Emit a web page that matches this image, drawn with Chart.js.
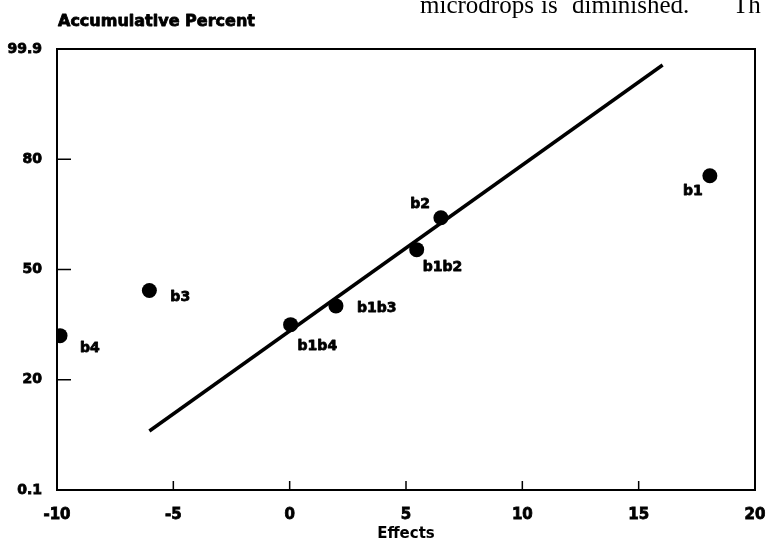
<!DOCTYPE html>
<html>
<head>
<meta charset="utf-8">
<script src="https://cdn.jsdelivr.net/npm/chart.js@4/dist/chart.umd.min.js"></script>
<style>
  html, body { margin: 0; padding: 0; background: #fff; }
  #wrap { width: 766px; height: 551px; }
</style>
</head>
<body>
<div id="wrap"><canvas id="plot"></canvas></div>
<script>
// effects and their position on the (equally spaced) percent axis
let effectNames = ['b4', 'b3', 'b1b4', 'b1b3', 'b1b2', 'b2', 'b1']
let effectValues = [-9.87, -6.03, 0.04, 1.99, 5.46, 6.50, 18.06]
let percentPos = [1.40, 1.81, 1.50, 1.67, 2.18, 2.47, 2.85]

// fitted line, two ends
let lineX = [-6.03, 16.03]
let lineY = [0.535, 3.855]

// percent axis tick labels, one per unit step
let percentLabels = ['0.1', '20', '50', '80', '99.9']
let xTicks = [-10, -5, 0, 5, 10, 15, 20]

// where each label sits relative to its dot (px), and alignment
let labelOffsets = [[20, 13, 'left'], [21, 7, 'left'], [7, 22, 'left'], [21, 2, 'left'],
                    [6, 18, 'left'], [-11, -13, 'right'], [-7, 16, 'right']]

// bit of the page's body text showing above the plot (justified, so words placed one by one)
let pageWords = ['microdrops', 'is', 'diminished.', 'Th']
let pageWordX = [420, 541, 572, 733]

const FONT = 'bold 14px "DejaVu Sans"'

let points = effectValues.map((v, i) => ({ x: v, y: percentPos[i] }))
let fit = lineX.map((v, i) => ({ x: v, y: lineY[i] }))

const frame = {
  id: 'frame',
  afterDraw(chart) {
    const ctx = chart.ctx
    const a = chart.chartArea
    const xs = chart.scales.x
    const ys = chart.scales.y
    ctx.save()
    ctx.strokeStyle = '#000'
    ctx.lineWidth = 2
    ctx.strokeRect(a.left, a.top, a.right - a.left, a.bottom - a.top)

    // inward tick marks
    ctx.lineWidth = 1.5
    ctx.beginPath()
    for (let i = 1; i < percentLabels.length - 1; i++) {
      const py = ys.getPixelForValue(i)
      ctx.moveTo(a.left, py)
      ctx.lineTo(a.left + 14, py)
    }
    for (let i = 1; i < xTicks.length - 1; i++) {
      const px = xs.getPixelForValue(xTicks[i])
      ctx.moveTo(px, a.bottom)
      ctx.lineTo(px, a.bottom - 9)
    }
    ctx.stroke()

    // point labels
    ctx.fillStyle = '#000'
    ctx.lineWidth = 0.8
    ctx.lineJoin = 'round'
    ctx.font = FONT
    ctx.textBaseline = 'middle'
    const meta = chart.getDatasetMeta(1)
    meta.data.forEach((el, i) => {
      const o = labelOffsets[i]
      ctx.textAlign = o[2]
      ctx.fillText(effectNames[i], el.x + o[0], el.y + o[1])
      ctx.strokeText(effectNames[i], el.x + o[0], el.y + o[1])
    })

    // y axis title
    ctx.textAlign = 'left'
    ctx.font = 'bold 16px "DejaVu Sans"'
    ctx.fillText('Accumulative Percent', 58, 22)
    ctx.strokeText('Accumulative Percent', 58, 22)

    // page text cut by the top edge
    ctx.textBaseline = 'alphabetic'
    ctx.font = '25px "Liberation Serif"'
    pageWords.forEach((w, i) => ctx.fillText(w, pageWordX[i], 13))
    ctx.restore()
  }
}

new Chart(document.getElementById('plot'), {
  type: 'scatter',
  data: {
    datasets: [
      {
        label: 'fit',
        data: fit,
        showLine: true,
        borderColor: '#000',
        borderWidth: 3.5,
        pointRadius: 0,
        borderCapStyle: 'butt'
      },
      {
        label: 'effects',
        data: points,
        backgroundColor: '#000',
        borderColor: '#000',
        pointRadius: 7.5,
        borderWidth: 0
      }
    ]
  },
  options: {
    responsive: true,
    maintainAspectRatio: false,
    animation: false,
    layout: { padding: { top: 49, right: 0, left: 0, bottom: 0 } },
    plugins: {
      legend: { display: false },
      tooltip: { enabled: false }
    },
    scales: {
      x: {
        type: 'linear',
        min: -10,
        max: 20,
        afterBuildTicks: (s) => { s.ticks = xTicks.map(v => ({ value: v })) },
        afterFit: (s) => { s.height = 61; s.paddingRight = 11; s.paddingLeft = 0 },
        grid: { display: false },
        border: { display: false },
        ticks: {
          color: '#000',
          font: { family: 'DejaVu Sans', size: 15, weight: 'bold' },
          textStrokeColor: '#000',
          textStrokeWidth: 0.8,
          padding: 8,
          maxRotation: 0
        },
        title: {
          display: true,
          text: 'Effects',
          color: '#000',
          font: { family: 'DejaVu Sans', size: 15, weight: 'bold' },
          padding: { top: 2, bottom: 8 }
        }
      },
      y: {
        type: 'linear',
        min: 0,
        max: 4,
        afterBuildTicks: (s) => { s.ticks = percentLabels.map((l, i) => ({ value: i })) },
        afterFit: (s) => { s.width = 57 },
        grid: { display: false },
        border: { display: false },
        ticks: {
          color: '#000',
          font: { family: 'DejaVu Sans', size: 14, weight: 'bold' },
          textStrokeColor: '#000',
          textStrokeWidth: 0.8,
          padding: 7,
          callback: (v) => percentLabels[v]
        }
      }
    }
  },
  plugins: [frame]
})
</script>
</body>
</html>
